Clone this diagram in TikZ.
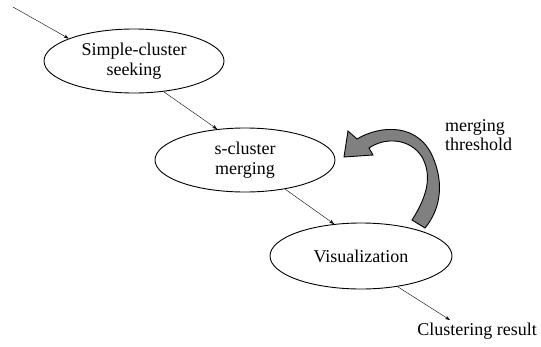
\documentclass[tikz,border=0pt]{standalone}
\usepackage{fontspec}
\setmainfont{Liberation Serif}
\usetikzlibrary{shapes.geometric,arrows.meta}
\begin{document}
\begin{tikzpicture}[x=1pt,y=-1pt,
  stage/.style={draw,ellipse,line width=0.9pt,inner sep=0pt,align=center,
    font=\fontsize{18}{20}\selectfont},
  flow/.style={line width=0.4pt,-{Stealth[length=5pt,width=3.5pt]}},
  lbl/.style={font=\fontsize{18}{19}\selectfont,inner sep=0pt}]
\useasboundingbox (0,0) rectangle (541,346);
\node[stage,minimum width=180pt,minimum height=64pt] (e1) at (134,61) {Simple-cluster\\seeking};
\node[stage,minimum width=180pt,minimum height=64pt] (e2) at (245,160) {s-cluster\\merging};
\node[stage,minimum width=182pt,minimum height=66pt] (e3) at (361,256) {Visualization};
\coordinate (in) at (13,7);
\coordinate (out) at (450,320);
\node[lbl,anchor=north] (res) at (477,323) {Clustering result};
\node[lbl,anchor=north west,align=left] (thr) at (445,119) {merging\\threshold};
\draw[flow] (in) -- (e1.161);
\draw[flow] (e1.-46) -- (e2.132);
\draw[flow] (e2.-36) -- (e3.130);
\draw[flow] (e3.-40) -- (out);
\draw[line width=0.9pt,fill=gray] (344,157) -- (348,131) -- (357,139)
  .. controls (380,125) and (420,122) .. (434,160)
  .. controls (444,185) and (440,210) .. (425,228)
  -- (412,220)
  .. controls (428,195) and (432,175) .. (422,157)
  .. controls (410,138) and (385,137) .. (369,148)
  -- (373,155) -- cycle;
\end{tikzpicture}
\end{document}
